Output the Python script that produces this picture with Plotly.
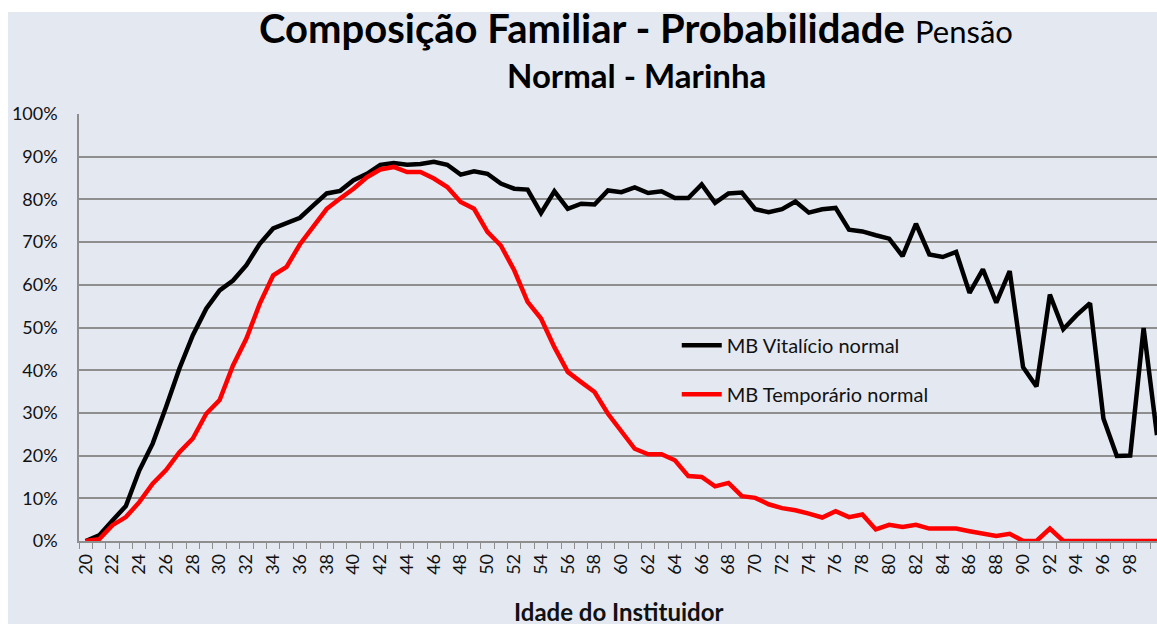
import plotly.graph_objects as go

ages = list(range(20, 101))

vitalicio = [0.0, 1.3, 4.8, 8.2, 16.5, 22.8, 31.4, 40.4, 48.2, 54.4,
             58.7, 61.0, 64.6, 69.6, 73.2, 74.5, 75.7, 78.6, 81.4, 82.0,
             84.5, 86.0, 88.1, 88.5, 88.1, 88.3, 88.8, 88.1, 85.8, 86.6,
             86.0, 83.7, 82.5, 82.3, 76.8, 81.9, 77.8, 79.0, 78.8, 82.1,
             81.7, 82.8, 81.5, 81.9, 80.3, 80.3, 83.5, 79.2, 81.4, 81.6,
             77.7, 77.0, 77.7, 79.5, 76.9, 77.7, 78.0, 72.9, 72.5, 71.6,
             70.8, 66.7, 74.3, 67.1, 66.5, 67.7, 58.1, 63.6, 55.8, 63.2,
             40.7, 36.2, 57.7, 49.6, 52.9, 55.7, 28.7, 19.9, 20.0, 49.9,
             24.8]

temporario = [0.0, 0.4, 3.7, 5.6, 9.1, 13.4, 16.6, 20.8, 24.0, 29.8,
              33.0, 41.1, 47.4, 55.6, 62.2, 64.2, 69.5, 73.5, 77.8, 80.2,
              82.5, 85.2, 87.0, 87.6, 86.4, 86.4, 84.9, 82.9, 79.4, 77.8,
              72.4, 69.2, 63.4, 56.0, 52.1, 45.4, 39.6, 37.2, 34.9, 29.8,
              25.5, 21.6, 20.3, 20.3, 18.9, 15.2, 15.0, 12.8, 13.6, 10.5,
              10.1, 8.6, 7.7, 7.2, 6.4, 5.5, 7.0, 5.6, 6.2, 2.7,
              3.8, 3.3, 3.8, 2.9, 2.9, 2.9, 2.3, 1.7, 1.2, 1.7,
              0.0, 0.0, 2.9, 0.0, 0.0, 0.0, 0.0, 0.0, 0.0, 0.0,
              0.0]

series_names = ["MB Vitalício normal", "MB Temporário normal"]
x_tick_labels = [str(a) for a in range(20, 101, 2)]
y_tick_values = list(range(0, 101, 10))

BG = "#E4E9F1"
GRID = "#8E8E8E"
FONT = "Lato"

fig = go.Figure()
fig.add_trace(go.Scatter(x=ages, y=vitalicio, mode="lines", name=series_names[0],
                         legendgroup="a", line=dict(color="#000000", width=4.5)))
fig.add_trace(go.Scatter(x=ages, y=temporario, mode="lines", name=series_names[1],
                         legendgroup="b", line=dict(color="#FF0000", width=4.5)))

fig.update_layout(
    width=1157, height=624, autosize=False,
    margin=dict(l=79, r=0, t=114, b=83, pad=0),
    paper_bgcolor=BG, plot_bgcolor=BG,
    font=dict(family=FONT, color="#000000"),
    showlegend=True,
    legend=dict(x=0.5545, y=0.504, xanchor="left", yanchor="top",
                bgcolor="rgba(0,0,0,0)", font=dict(size=20, family=FONT, color="#111111"),
                tracegroupgap=20, itemwidth=40),
    shapes=[
        dict(type="rect", xref="paper", yref="paper", x0=-0.2, x1=1.2, y0=1.239, y1=1.4,
             fillcolor="white", line=dict(width=0), layer="below"),
        dict(type="rect", xref="paper", yref="paper", x0=-0.2, x1=-0.0659, y0=-0.4, y1=1.4,
             fillcolor="white", line=dict(width=0), layer="below"),
    ],
    annotations=[
        dict(xref="paper", yref="paper", x=0.517, y=1.262, xanchor="center", yanchor="top",
             showarrow=False, align="center",
             text="<b>Composição Familiar - Probabilidade</b> <span style='font-size:31px'>Pensão</span>",
             font=dict(size=40, family=FONT, color="#000000")),
        dict(xref="paper", yref="paper", x=0.517, y=1.143, xanchor="center", yanchor="top",
             showarrow=False, text="<b>Normal - Marinha</b>",
             font=dict(size=33, family=FONT, color="#000000")),
        dict(xref="paper", yref="paper", x=0.501, y=-0.1265, xanchor="center", yanchor="top",
             showarrow=False, text="<b>Idade do Instituidor</b>",
             font=dict(size=24, family=FONT, color="#111111")),
    ],
)

fig.update_xaxes(
    range=[19.5, 100.0], tickmode="linear", tick0=20, dtick=2,
    tickangle=-90, ticks="", ticklabelstandoff=4,
    tickfont=dict(size=18, family=FONT, color="#111111"),
    showgrid=False, zeroline=False,
    showline=True, linecolor=GRID, linewidth=1.5,
    minor=dict(tick0=19.5, dtick=1, ticks="outside", ticklen=6, tickcolor=GRID,
               tickwidth=1, showgrid=False),
)
fig.update_yaxes(
    range=[0, 100], tickmode="array", tickvals=y_tick_values,
    ticktext=[f"{v}%" for v in y_tick_values],
    ticks="", ticklabelstandoff=16,
    tickfont=dict(size=18, family=FONT, color="#111111"),
    showgrid=True, gridcolor=GRID, gridwidth=1.5,
    zeroline=False, showline=True, linecolor=GRID, linewidth=1.5,
)

fig.write_html(
    "out.html",
    config={"displayModeBar": False},
    post_script="document.body.style.margin='0';document.body.style.overflow='hidden';",
)
